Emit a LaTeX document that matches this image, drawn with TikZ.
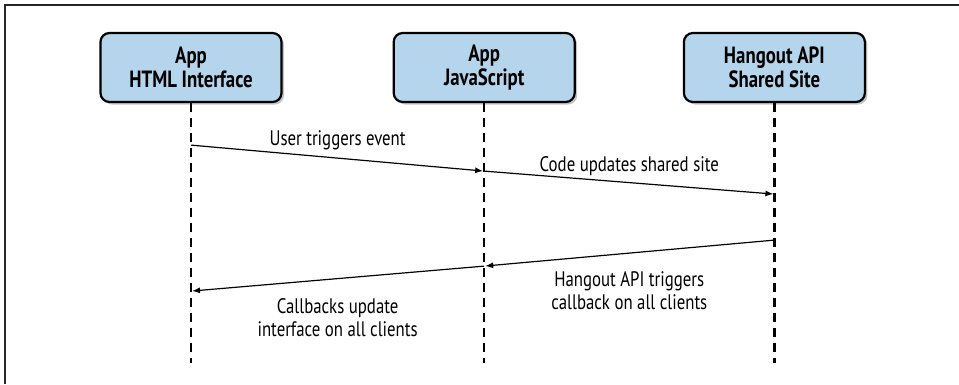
\documentclass[tikz,border=0pt]{standalone}
\usepackage{fontspec}
\setmainfont{PT Sans}[FakeStretch=0.8]
\usetikzlibrary{arrows.meta,positioning,shadows}

\definecolor{boxblue}{HTML}{B4D5EB}

\begin{document}
\begin{tikzpicture}[
  party/.style = {draw, line width=2.2pt, rounded corners=9pt, fill=boxblue,
    align=center, font=\fontsize{23.5}{24}\selectfont\bfseries,
    minimum width=181pt, minimum height=69pt, inner sep=2pt,
    drop shadow={shadow xshift=2.5pt, shadow yshift=-2.5pt, fill=black!45}},
  life/.style = {line width=2.2pt, dash pattern=on 9pt off 6pt},
  msg/.style = {-{Latex[length=8pt,width=6pt]}, line width=1.2pt, shorten >=1pt},
  lbl/.style = {font=\fontsize{21}{23}\selectfont, align=center},
]
\useasboundingbox (0,0) rectangle (959pt,-384pt);
% frame
\draw[line width=1.6pt, black!85] (5pt,-384pt) -- (5pt,-5pt) -- (959pt,-5pt);

% participants
\node[party] (html) at (191pt,-67.5pt) {App\\HTML Interface};
\node[party, right=110pt of html] (js) {App\\JavaScript};
\node[party, right=107pt of js] (site) {Hangout API\\Shared Site};

% lifelines and message points
\foreach \p in {html,js,site} {
  \path (\p.south) ++(0,-42pt) coordinate (\p a)
        (\p.south) ++(0,-68pt) coordinate (\p b)
        (\p.south) ++(0,-91pt) coordinate (\p c)
        (\p.south) ++(0,-137pt) coordinate (\p d)
        (\p.south) ++(0,-163pt) coordinate (\p e)
        (\p.south) ++(0,-188pt) coordinate (\p f)
        (\p.south) ++(0,-260pt) coordinate (\p end);
  \draw[life] (\p.south) -- (\p end);
}

% messages
\draw[msg] (htmla) -- node[lbl, midway, yshift=18pt] {User triggers event} (jsb);
\draw[msg] (jsb) -- node[lbl, midway, yshift=16pt] {Code updates shared site} (sitec);
\draw[msg] (sited) -- node[lbl, midway, yshift=-38pt] {Hangout API triggers\\callback on all clients} (jse);
\draw[msg] (jse) -- node[lbl, midway, yshift=-39pt] {Callbacks update\\interface on all clients} (htmlf);
\end{tikzpicture}
\end{document}
